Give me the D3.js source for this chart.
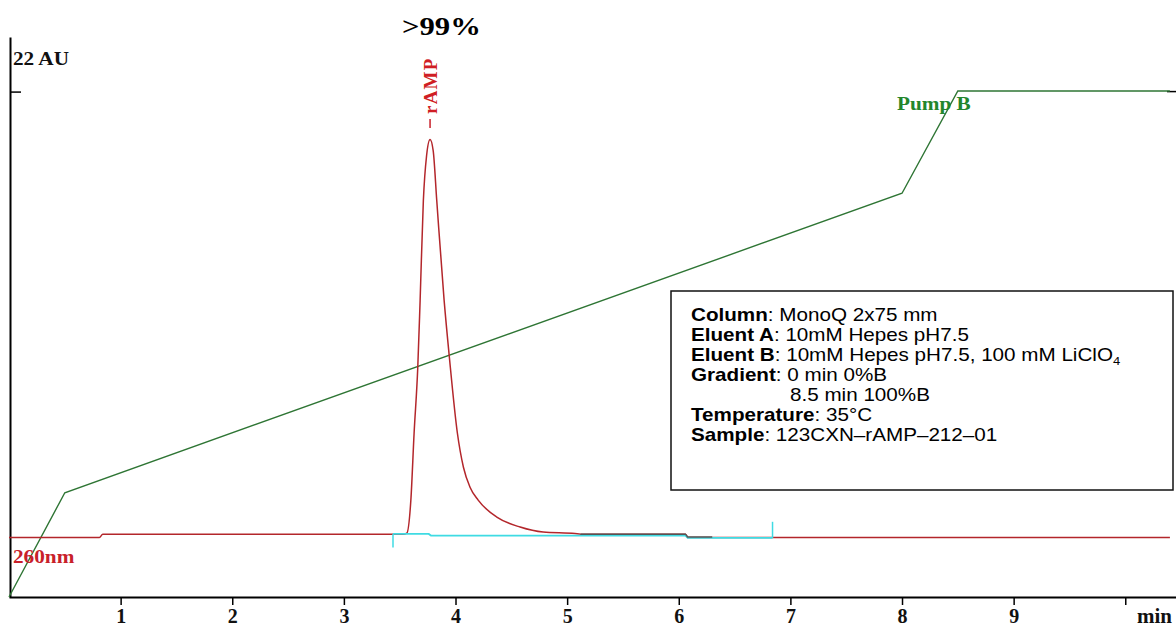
<!DOCTYPE html>
<html>
<head>
<meta charset="utf-8">
<script src="https://cdn.jsdelivr.net/npm/d3@7"></script>
<style>
  body { margin: 0; background: #fff; }
  svg { display: block; }
  .tick text { font-family: "Liberation Serif", "Times New Roman", serif; font-weight: bold; }
</style>
</head>
<body>
<script>
// time axis (min)
const xTicks = [1, 2, 3, 4, 5, 6, 7, 8, 9, 10];
const xTickLabels = ["1", "2", "3", "4", "5", "6", "7", "8", "9", ""];

// Pump B gradient (%B)
const pumpTime = [0, 0.5, 8.0, 8.5, 10.4];
const pumpB = [0, 20.6, 79.8, 100, 100];

// 260 nm trace (AU)
const uvTime = [0, 0.81, 0.84, 3.53, 3.564, 3.60, 3.629, 3.662, 3.683, 3.712, 3.741, 3.772, 3.80,
  3.832, 3.898, 3.945, 4.017, 4.071, 4.13, 4.203, 4.37, 4.579, 4.785, 5.07, 5.12, 6.06, 6.08, 10.4];
const uvAU = [-0.06, -0.06, 0.1, 0.1, 0.16, 1.79, 5.10, 8.36, 11.67, 16.61, 18.84, 19.63, 19.08,
  16.61, 11.67, 8.86, 5.10, 3.42, 2.43, 1.79, 0.95, 0.46, 0.21, 0.14, 0.11, 0.11, -0.06, -0.06];

// integration baseline
const baseTime = [3.44, 3.76, 3.78, 6.06, 6.08, 6.84];
const baseAU = [0.12, 0.12, 0.04, 0.04, -0.08, -0.08];
const baseMarkTime = [3.44, 6.84];
const baseMarkFrom = [0.12, -0.08];
const baseMarkTo = [-0.55, 0.72];
const darkTime = [5.12, 6.06, 6.08, 6.3];
const darkAU = [0.11, 0.11, -0.03, -0.03];

// method box
const infoLabels = ["Column", "Eluent A", "Eluent B", "Gradient", "", "Temperature", "Sample"];
const infoValues = [": MonoQ 2x75 mm", ": 10mM Hepes pH7.5", ": 10mM Hepes pH7.5, 100 mM LiClO",
  ": 0 min 0%B", "8.5 min 100%B", ": 35°C", ": 123CXN\u2013rAMP\u2013212\u201301"];

const W = 1176, H = 628;
const stretch = 1.18;   // text in the original is drawn wide

const svg = d3.select("body")
    .append("svg")
    .attr("width", W)
    .attr("height", H);

const x = d3.scaleLinear()
    .domain([0, 10.45])
    .range([9, 1175.5]);
const yAU = d3.scaleLinear()
    .domain([-3, 24.7])
    .range([597, 37]);
const yB = d3.scaleLinear()
    .domain([0, 100])
    .range([597, 91]);

const serif = "'Liberation Serif', 'Times New Roman', serif";
const sans = "'Liberation Sans', Arial, sans-serif";

function stretchedText(g, px, py, txt, size, fill, sx) {
    return g.append("text")
        .attr("transform", `translate(${px}, ${py}) scale(${sx || stretch}, 1)`)
        .attr("font-family", serif)
        .attr("font-weight", "bold")
        .attr("font-size", size)
        .attr("fill", fill)
        .text(txt);
}

// X axis
const xAxis = svg.append("g")
    .attr("transform", "translate(0, 597)")
    .call(d3.axisBottom(x)
        .tickValues(xTicks)
        .tickSize(8)
        .tickSizeOuter(0)
        .tickFormat((d, i) => xTickLabels[i]));
xAxis.select(".domain").attr("stroke-width", 2);
xAxis.selectAll(".tick line").attr("stroke-width", 1.5);
xAxis.selectAll(".tick text")
    .attr("font-size", 20)
    .attr("fill", "#111")
    .attr("y", 26)
    .attr("dy", 0);
stretchedText(svg, 1137, 623, "min", 20, "#111", 1.05);

// Y axis
const yAxis = svg.append("g")
    .attr("transform", "translate(10, 0)")
    .call(d3.axisRight(yAU)
        .tickValues([22])
        .tickSize(11)
        .tickSizeOuter(0)
        .tickFormat(""));
yAxis.select(".domain").attr("stroke-width", 2);
yAxis.selectAll(".tick line").attr("stroke-width", 1.5);
svg.append("line")
    .attr("x1", 1167).attr("x2", W)
    .attr("y1", yAU(22)).attr("y2", yAU(22))
    .attr("stroke", "#000")
    .attr("stroke-width", 1.5);
stretchedText(svg, 13, 65, "22 AU", 18, "#111");

// Pump B line
const pumpLine = d3.line()
    .x(d => x(d[0]))
    .y(d => yB(d[1]));
svg.append("path")
    .datum(pumpTime.map((t, i) => [t, pumpB[i]]))
    .attr("fill", "none")
    .attr("stroke", "#2e7534")
    .attr("stroke-width", 1.4)
    .attr("d", pumpLine);

// 260 nm trace
const uvLine = d3.line()
    .x(d => x(d[0]))
    .y(d => yAU(d[1]))
    .curve(d3.curveMonotoneX);
svg.append("path")
    .datum(uvTime.map((t, i) => [t, uvAU[i]]))
    .attr("fill", "none")
    .attr("stroke", "#b3262b")
    .attr("stroke-width", 1.5)
    .attr("d", uvLine);

// integration baseline
const flatLine = d3.line()
    .x(d => x(d[0]))
    .y(d => yAU(d[1]));
svg.append("path")
    .datum(baseTime.map((t, i) => [t, baseAU[i]]))
    .attr("fill", "none")
    .attr("stroke", "#3fdbe3")
    .attr("stroke-width", 1.8)
    .attr("d", flatLine);
svg.append("path")
    .datum(darkTime.map((t, i) => [t, darkAU[i]]))
    .attr("fill", "none")
    .attr("stroke", "#555")
    .attr("stroke-width", 1.5)
    .attr("d", flatLine);
svg.append("g")
    .selectAll("line")
    .data(baseMarkTime)
    .join("line")
    .attr("x1", d => x(d)).attr("x2", d => x(d))
    .attr("y1", (d, i) => yAU(baseMarkFrom[i]))
    .attr("y2", (d, i) => yAU(baseMarkTo[i]))
    .attr("stroke", "#3fdbe3")
    .attr("stroke-width", 1.5);

// labels
stretchedText(svg, 402, 35, ">99%", 26, "#000");
stretchedText(svg, 13, 563, "260nm", 18, "#c8202a");
stretchedText(svg, 897, 110, "Pump B", 18, "#23862c");

// peak label, reads upward
svg.append("line")
    .attr("x1", x(3.772)).attr("x2", x(3.772))
    .attr("y1", 119).attr("y2", 128)
    .attr("stroke", "#c8202a")
    .attr("stroke-width", 1.5);
svg.append("text")
    .attr("transform", `translate(${x(3.772) + 6.5}, 114) rotate(-90)`)
    .attr("font-family", serif)
    .attr("font-weight", "bold")
    .attr("font-size", 19)
    .attr("letter-spacing", 1.2)
    .attr("fill", "#d01e24")
    .text("rAMP");

// method box
const box = svg.append("g");
box.append("rect")
    .attr("x", 671).attr("y", 291)
    .attr("width", 502).attr("height", 199)
    .attr("fill", "#fff")
    .attr("stroke", "#111")
    .attr("stroke-width", 1.5);
infoLabels.forEach(function (lab, i) {
    const t = box.append("text")
        .attr("transform", `translate(${lab ? 691 : 790}, ${321 + i * 20}) scale(${stretch}, 1)`)
        .attr("font-family", sans)
        .attr("font-size", 17.5)
        .attr("fill", "#000");
    t.append("tspan").attr("font-weight", "bold").text(lab);
    t.append("tspan").text(infoValues[i]);
    if (lab === "Eluent B") {
        t.append("tspan").attr("font-size", 11).attr("dy", 4).text("4");
    }
});
</script>
</body>
</html>
